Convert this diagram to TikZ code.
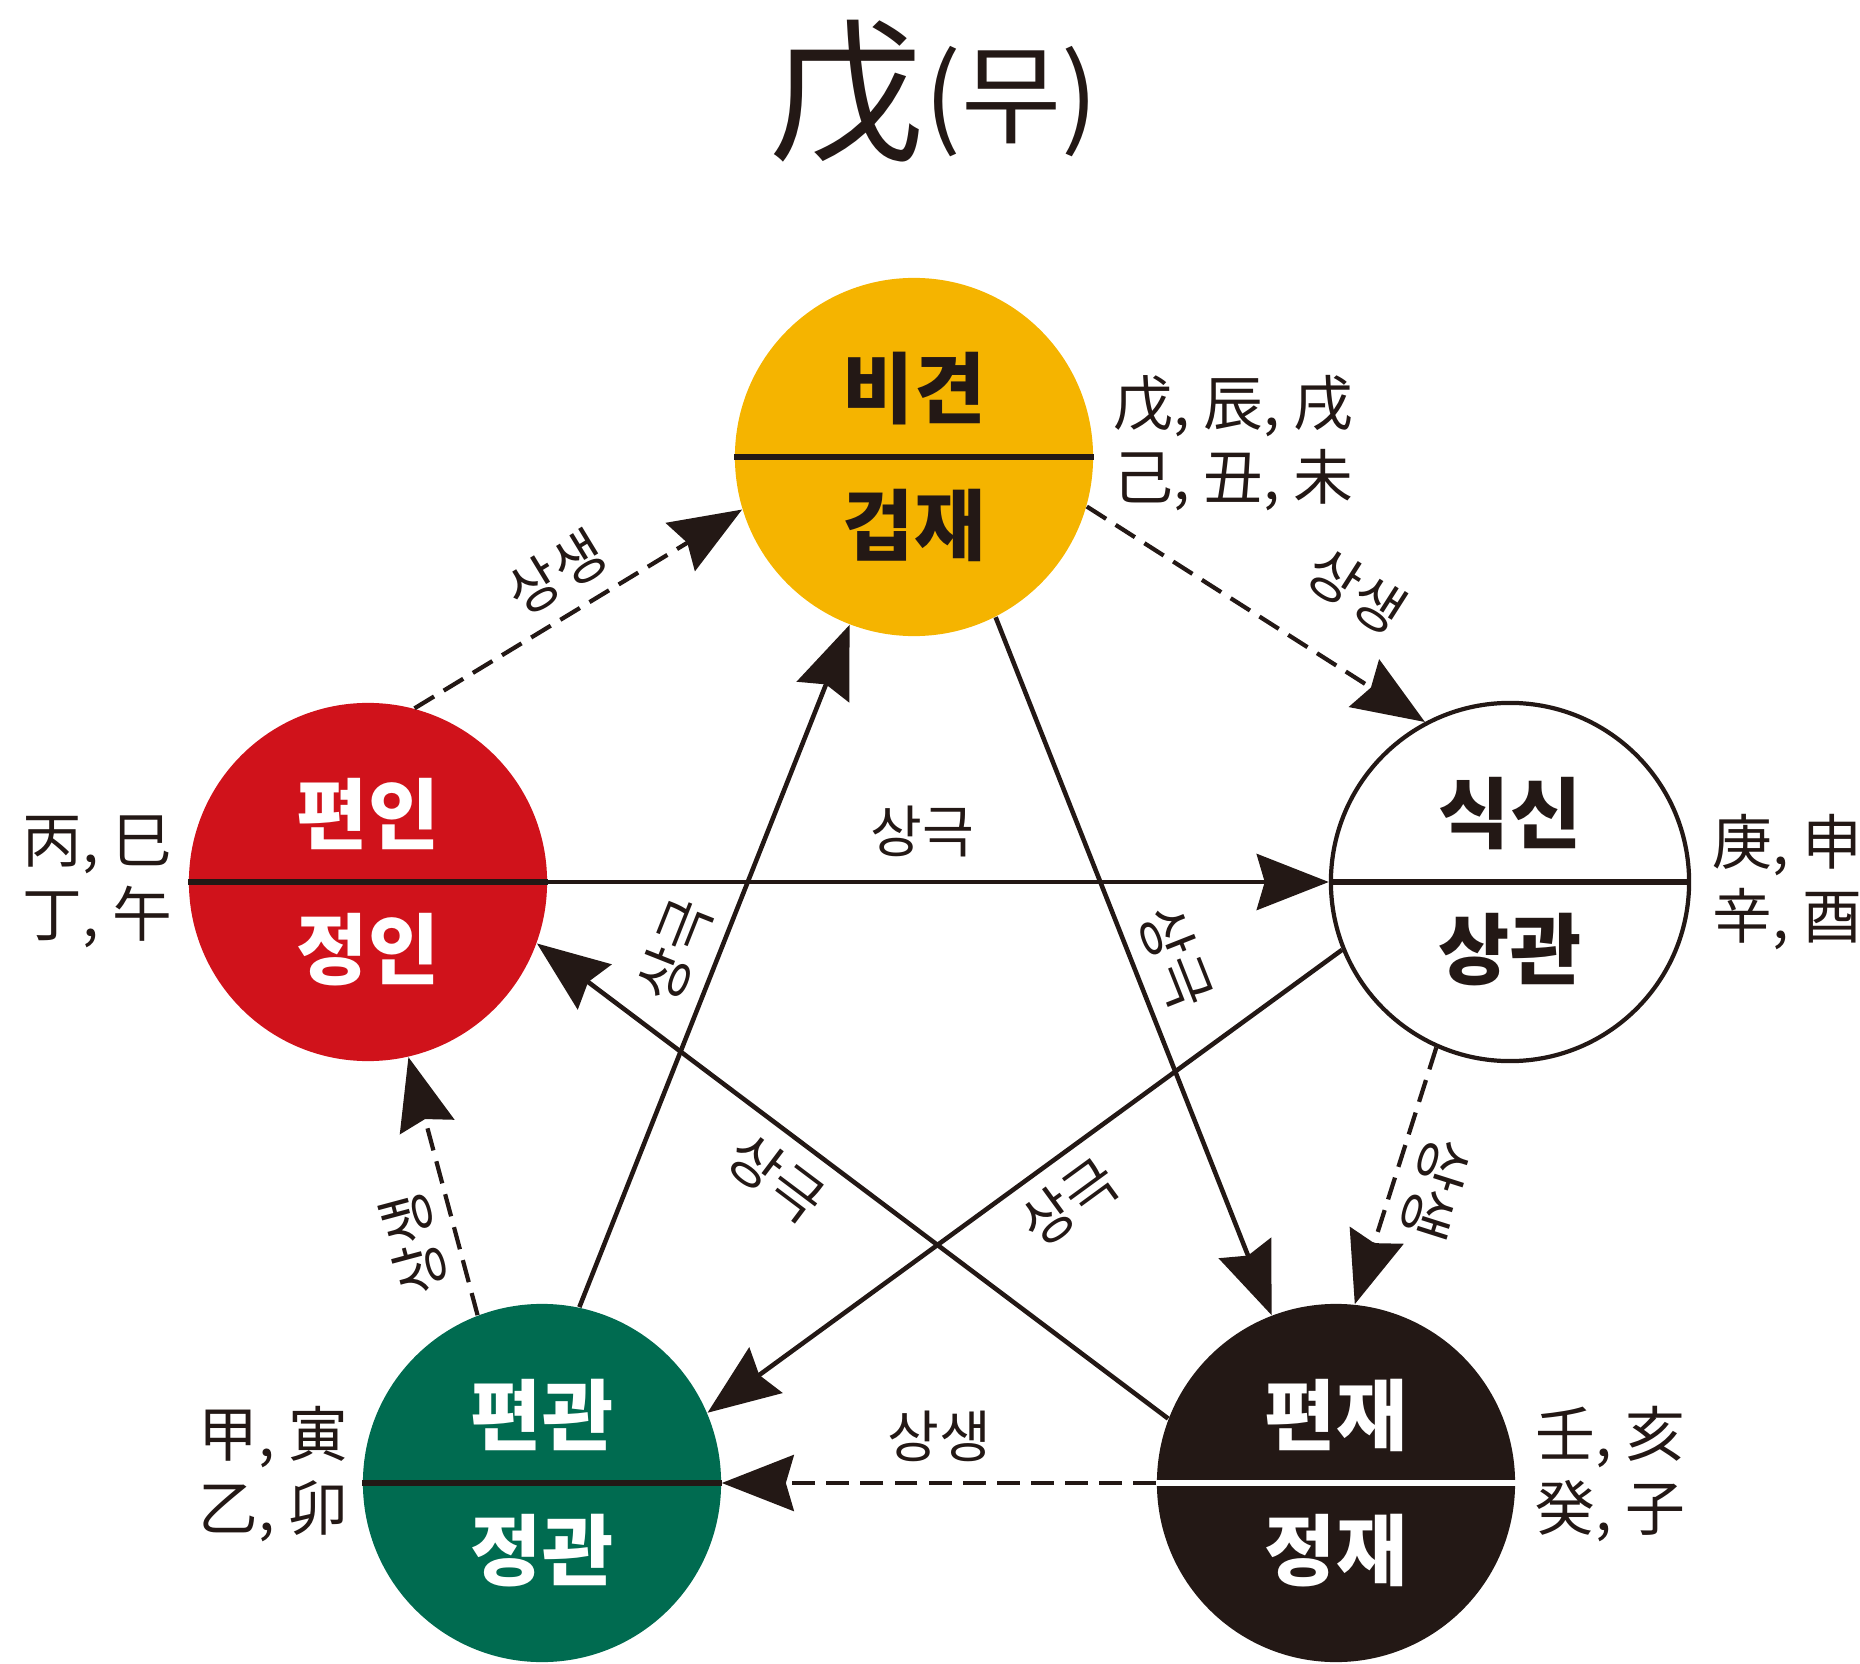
\documentclass[tikz,border=0pt]{standalone}
\usepackage{fontspec}
\setmainfont{Noto Sans CJK KR}
\usetikzlibrary{arrows.meta}

\definecolor{goldC}{HTML}{F5B400}
\definecolor{redC}{HTML}{D0121B}
\definecolor{greenC}{HTML}{006B50}
\definecolor{inkC}{HTML}{231815}

\tikzset{
  elem/.style={circle, minimum size=3.58cm, inner sep=0pt},
  divider/.style={line width=1.8pt, inkC},
  inTxt/.style={font=\fontsize{22}{22}\selectfont\bfseries, inner sep=0pt},
  branchTxt/.style={font=\fontsize{17}{21}\selectfont, align=left, inkC, anchor=west, inner sep=0pt},
  arrowTxt/.style={font=\fontsize{16}{16}\selectfont, inkC},
  tip/.tip={Stealth[length=0.72cm, width=0.56cm, inset=0.08cm]},
  geuk/.style={line width=1.3pt, inkC, -tip},
  saeng/.style={line width=1.2pt, inkC, dash pattern=on 6.5pt off 3.2pt, -tip}
}

\begin{document}
\begin{tikzpicture}[x=0.01cm, y=-0.01cm]

    % Frame of the reference
    \useasboundingbox (0,0) rectangle (1860,1664);

    % Centres of the five circles
    \def\Tx{914}  \def\Ty{457}    % 비견 / 겁재
    \def\Lx{368}  \def\Ly{882}    % 편인 / 정인
    \def\Rx{1510} \def\Ry{882}    % 식신 / 상관
    \def\Gx{542}  \def\Gy{1483}   % 편관 / 정관
    \def\Jx{1336} \def\Jy{1483}   % 편재 / 정재
    \def\dy{68}                   % offset of the two words

    % Title
    \node[inkC] (title) at (934,92) {{\fontsize{44}{44}\selectfont 戊}\raisebox{4pt}{\fontsize{31}{31}\selectfont (무)}};

    % Circles
    \node[elem, fill=goldC] (bigyeon) at (\Tx,\Ty) {};
    \node[elem, fill=redC] (pyeonin) at (\Lx,\Ly) {};
    \node[elem, fill=white, draw=inkC, line width=1.2pt] (siksin) at (\Rx,\Ry) {};
    \node[elem, fill=greenC] (pyeongwan) at (\Gx,\Gy) {};
    \node[elem, fill=inkC] (pyeonjae) at (\Jx,\Jy) {};

    % Dividing lines
    \draw[divider] (bigyeon.west) -- (bigyeon.east);
    \draw[divider] (pyeonin.west) -- (pyeonin.east);
    \draw[divider] (siksin.west) -- (siksin.east);
    \draw[divider] (pyeongwan.west) -- (pyeongwan.east);
    \draw[divider, white] (pyeonjae.west) -- (pyeonjae.east);

    % Words in the circles
    \node[inTxt, inkC] (bigyeonA) at (\Tx,\Ty-\dy) {비견};
    \node[inTxt, inkC] (bigyeonB) at (\Tx,\Ty+\dy) {겁재};
    \node[inTxt, white] (pyeoninA) at (\Lx,\Ly-\dy) {편인};
    \node[inTxt, white] (pyeoninB) at (\Lx,\Ly+\dy) {정인};
    \node[inTxt, inkC] (siksinA) at (\Rx,\Ry-\dy) {식신};
    \node[inTxt, inkC] (siksinB) at (\Rx,\Ry+\dy) {상관};
    \node[inTxt, white] (pyeongwanA) at (\Gx,\Gy-\dy) {편관};
    \node[inTxt, white] (pyeongwanB) at (\Gx,\Gy+\dy) {정관};
    \node[inTxt, white] (pyeonjaeA) at (\Jx,\Jy-\dy) {편재};
    \node[inTxt, white] (pyeonjaeB) at (\Jx,\Jy+\dy) {정재};

    % Stems and branches beside the circles
    \node[branchTxt] (bigyeonJi) at (1113,443) {戊, 辰, 戌\\己, 丑, 未};
    \node[branchTxt] (pyeoninJi) at (22,882) {丙, 巳\\丁, 午};
    \node[branchTxt] (siksinJi) at (1712,882) {庚, 申\\辛, 酉};
    \node[branchTxt] (pyeongwanJi) at (198,1474) {甲, 寅\\乙, 卯};
    \node[branchTxt] (pyeonjaeJi) at (1535,1474) {壬, 亥\\癸, 子};

    % 상생 (dashed, round the pentagon)
    \draw[saeng] (pyeonin.75) -- (bigyeon.197)
        node[arrowTxt, midway, sloped, above=1pt] (s1) {상생};
    \draw[saeng] (bigyeon.-16) -- (siksin.118)
        node[arrowTxt, pos=0.68, sloped, above=10pt] (s2) {상생};
    \draw[saeng] (siksin.246) -- (pyeonjae.84)
        node[arrowTxt, midway, sloped, allow upside down, above=1pt] (s3) {상생};
    \draw[saeng] (pyeonjae.west) -- (pyeongwan.east)
        node[arrowTxt, midway, above=2pt] (s4) {상생};
    \draw[saeng] (pyeongwan.111) -- (pyeonin.283)
        node[arrowTxt, pos=0.32, sloped, allow upside down, above=1pt] (s5) {상생};

    % 상극 (solid, the star)
    \draw[geuk] (pyeonin.east) -- (siksin.west)
        node[arrowTxt, pos=0.48, above=3pt] (k1) {상극};
    \draw[geuk] (bigyeon.-63) -- (pyeonjae.111)
        node[arrowTxt, pos=0.51, sloped, above=1pt] (k2) {상극};
    \draw[geuk] (pyeonjae.159) -- (pyeonin.-20)
        node[arrowTxt, pos=0.58, sloped, below=1pt] (k3) {상극};
    \draw[geuk] (siksin.202) -- (pyeongwan.23)
        node[arrowTxt, pos=0.47, sloped, below=1pt] (k4) {상극};
    \draw[geuk] (pyeongwan.78) -- (bigyeon.249)
        node[arrowTxt, pos=0.5, sloped, above=1pt] (k5) {상극};

\end{tikzpicture}
\end{document}
